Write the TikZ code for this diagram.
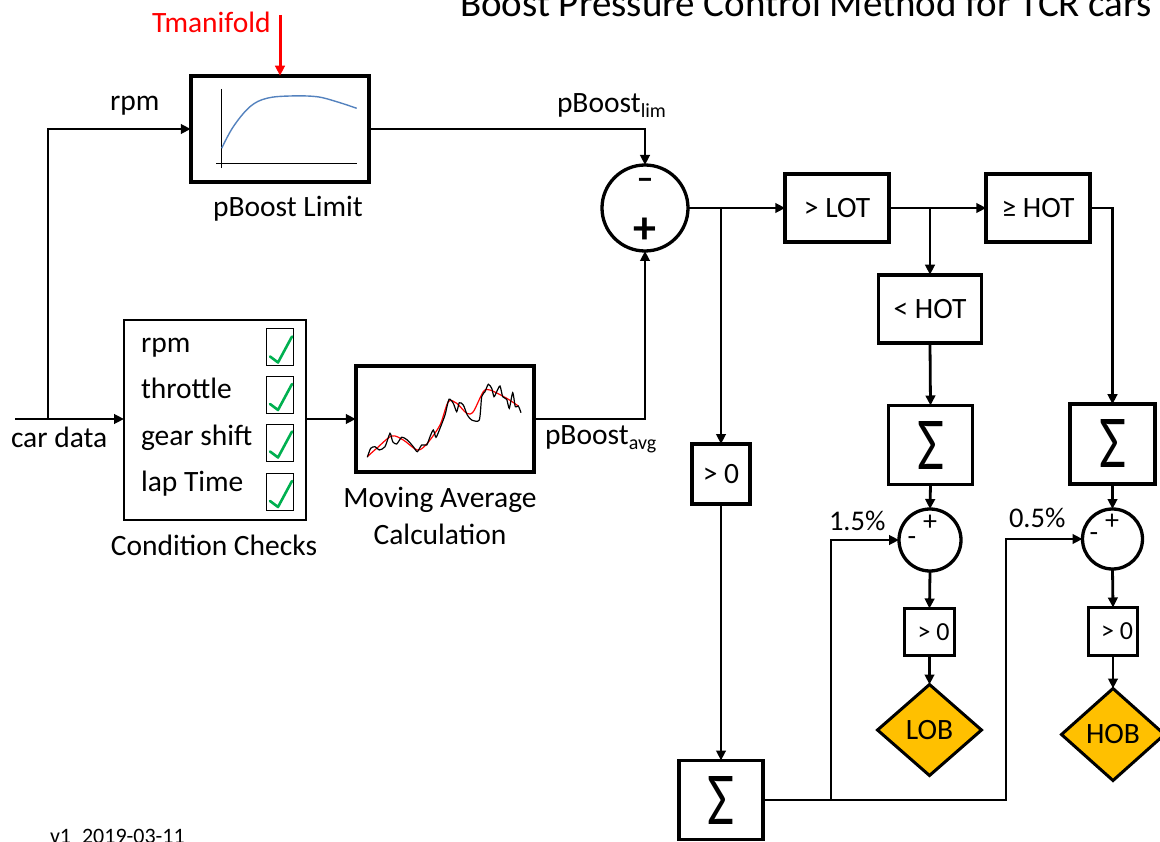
\documentclass[tikz,border=0pt]{standalone}
\usepackage{fontspec}
\usepackage{graphicx}
\setmainfont{Carlito}
\usetikzlibrary{arrows.meta,shapes.geometric}
\definecolor{chkgreen}{RGB}{0,176,80}
\definecolor{curveblue}{RGB}{84,130,190}
\definecolor{warnfill}{RGB}{255,192,0}
\newcommand{\bigsig}{\resizebox{27pt}{48pt}{\fontsize{40}{40}\selectfont Σ}}
\begin{document}
\begin{tikzpicture}[x=1pt,y=-1pt,
  every node/.style={inner sep=0pt, outer sep=0pt},
  txt/.style={font=\fontsize{29.5}{34}\selectfont},
  smalltxt/.style={font=\fontsize{26}{30}\selectfont},
  blk/.style={draw, line width=3.8pt, inner sep=0pt, font=\fontsize{29.5}{34}\selectfont},
  sumcirc/.style={draw, circle, line width=3.3pt, inner sep=0pt},
  warn/.style={draw, diamond, fill=warnfill, line width=3pt, inner sep=0pt, font=\fontsize{29.5}{34}\selectfont},
  conn/.style={line width=2.8pt, -{Triangle[length=10pt,width=9.5pt]}},
  chkbox/.style={draw, line width=1pt, minimum width=27pt, minimum height=37pt},
  tick/.style={chkgreen, line width=2.6pt, line cap=round, line join=round}
]
\useasboundingbox (0,0) rectangle (1160,842);
\clip (0,0) rectangle (1160,842);

% title and version (cut by the page edge as in the reference)
\node[anchor=base west, font=\fontsize{39}{45}\selectfont] (title) at (460,17) {Boost Pressure Control Method for TCR cars};
\node[anchor=base west, font=\fontsize{22}{26}\selectfont] (ver) at (50,843) {v1\_2019-03-11};

% pBoost limit block
\node[blk, minimum width=178.5pt, minimum height=106.5pt] (lim) at (280,129) {};
\draw[line width=1pt] (221,89) -- (221,168);
\draw[line width=1pt] (216,164) -- (357,164);
\draw[curveblue, line width=1.4pt] plot[smooth, tension=0.6] coordinates {(221.7,148.3) (233.3,126.7) (250,106.7) (266.7,98.3) (290,96) (316.7,96.7) (336.7,101.7) (356.7,108.3)};
\node[txt, anchor=base] (limlbl) at (288,217) {pBoost Limit};

% Tmanifold
\node[txt, red, anchor=base west] (tm) at (152,33) {Tmanifold};
\coordinate (tmtop) at (280,15);
\draw[conn, red, line width=3pt] (tmtop) -- (tmtop |- lim.north);

% car data & rpm
\node[txt, anchor=base west] (cdlbl) at (11,447) {car data};
\coordinate (cd) at (15,419);
\coordinate (sp) at (48,419);
\node[txt, anchor=base west] (rpmlbl) at (110,111) {rpm};

% condition checks
\node[draw, line width=2pt, minimum width=182pt, minimum height=200pt] (cc) at (215,420) {};
\node[txt, anchor=base west] (r1) at (141,353) {rpm};
\node[txt, anchor=base west] (r2) at (141,399) {throttle};
\node[txt, anchor=base west] (r3) at (141,445) {gear shift};
\node[txt, anchor=base west] (r4) at (141,491) {lap Time};
\foreach \y/\n in {347.5/1,395/2,442.5/3,492/4}{
  \node[chkbox] (chk\n) at (280,\y) {};
  \draw[tick] ([shift={(-10,9)}]chk\n.center) -- ([shift={(-2,15)}]chk\n.center) -- ([shift={(12,-11)}]chk\n.center);
}
\node[txt, anchor=base] (cclbl) at (214,555) {Condition Checks};

% moving average
\node[blk, minimum width=178.5pt, minimum height=106.5pt] (ma) at (445,419) {};
\draw[red, line width=1.2pt] plot[smooth, tension=0.5] coordinates {(367.3,456.7) (376.7,448.3) (391.7,436) (403.3,440) (417.3,450) (426.7,444) (440,425) (448.3,401.7) (456.7,403.3) (466.7,413.3) (473.3,411.7) (483.3,391.7) (490,390) (506.7,398.3) (518.3,406)};
\draw[black, line width=1.2pt] plot[smooth, tension=0.4] coordinates {(367.3,457.3) (370.7,448.3) (375,446.7) (379.3,450) (385,446.7) (390,433.3) (392.7,441.7) (396.7,444) (401.7,437.3) (407.3,440) (413.3,446.7) (417.3,451.7) (421.7,445) (426.7,445) (430,436.7) (433.3,430) (436,437.3) (440,428.3) (445,415) (449,399.3) (453.3,403.3) (456.7,411.7) (459.3,402.7) (463.3,405) (467.3,415) (471.7,420) (479.3,420) (481.7,396.7) (485,391.7) (488.3,384.3) (491.7,388.3) (494,396.7) (496.7,391.7) (500,386) (502.7,396.7) (506.7,399.3) (509.3,408.3) (512.7,392.7) (515.3,406.7) (518.3,406) (521,412.7)};
\node[txt, anchor=base] (malbl1) at (440,507) {Moving Average};
\node[txt, anchor=base] (malbl2) at (440,544) {Calculation};

% main sum
\node[sumcirc, minimum size=86pt] (sum) at (645,208) {};
\node[font=\bfseries\fontsize{34}{34}\selectfont] (summinus) at (645,184) {–};
\node[font=\bfseries\fontsize{46}{46}\selectfont] (sumplus) at (645,231) {+};

\node[txt, anchor=base west] (plim) at (557,113) {pBoost\raisebox{-5pt}{\fontsize{20}{20}\selectfont lim}};
\node[txt, anchor=base west] (pavg) at (545,444) {pBoost\raisebox{-5pt}{\fontsize{20}{20}\selectfont avg}};

% threshold boxes
\node[blk, minimum width=103.5pt, minimum height=68pt] (lot) at (837,208) {> LOT};
\node[blk, minimum width=103.5pt, minimum height=68pt] (hot) at (1038,208) {≥ HOT};
\node[blk, minimum width=103pt, minimum height=68.5pt] (lhot) at (930,309) {< HOT};
\node[blk, minimum width=58pt, minimum height=60pt] (gt0) at (721,474) {> 0};

% integrators
\node[blk, minimum width=84pt, minimum height=79pt] (sigA) at (930.5,445) {\bigsig};
\node[blk, minimum width=85.5pt, minimum height=79.5pt] (sigB) at (1112.5,444) {\bigsig};
\node[blk, minimum width=84pt, minimum height=79pt] (sigC) at (721,800) {\bigsig};

% comparison circles
\node[sumcirc, minimum size=62pt] (c1) at (930,540) {};
\node[sumcirc, minimum size=60pt] (c2) at (1112.5,539) {};
\node[font=\fontsize{28}{28}\selectfont] (c1p) at (930,523) {+};
\node[font=\fontsize{28}{28}\selectfont] (c1m) at (912,541) {-};
\node[font=\fontsize{28}{28}\selectfont] (c2p) at (1112,522) {+};
\node[font=\fontsize{28}{28}\selectfont] (c2m) at (1094,537) {-};
\node[font=\fontsize{28.5}{30}\selectfont, anchor=base west] (p15) at (829,530) {1.5\%};
\node[font=\fontsize{28.5}{30}\selectfont, anchor=base west] (p05) at (1009,527) {0.5\%};

% small >0 boxes
\node[draw, line width=3.3pt, minimum width=50pt, minimum height=47pt, smalltxt] (g1) at (929.5,632) {\hspace*{8pt}> 0};
\node[draw, line width=3.3pt, minimum width=49pt, minimum height=48pt, smalltxt] (g2) at (1113,631.5) {\hspace*{8pt}> 0};

% flags
\node[warn, minimum width=104pt, minimum height=91pt, aspect=1.14] (lob) at (929.5,730) {LOB};
\node[warn, minimum width=103pt, minimum height=92pt, aspect=1.12] (hob) at (1113,734.5) {HOB};

% connectors
\draw[conn] (cd) -- (cd -| cc.west);
\draw[conn] (sp) |- (lim.west);
\draw[conn] (cc.east |- ma.west) -- (ma.west);
\draw[conn] (lim.east) -| (sum.north);
\draw[conn] (ma.east) -| (sum.south);
\draw[conn] (sum.east) -- (lot.west);
\coordinate (b1) at (721,208);
\draw[conn] (b1) -- (gt0.north);
\draw[conn] (gt0.south) -- (sigC.north);
\draw[conn] (lot.east) -- (hot.west);
\coordinate (b2) at (930,208);
\draw[conn] (b2) -- (lhot.north);
\draw[conn] (lhot.south) -- (sigA.north);
\draw[conn] (hot.east) -| (sigB.north);
\draw[conn] (sigA.south) -- (c1.north);
\draw[conn] (sigB.south) -- (c2.north);
\draw[conn] (c1.south) -- (g1.north);
\draw[conn] (c2.south) -- (g2.north);
\draw[conn] (g1.south) -- (lob.north);
\draw[conn] (g2.south) -- (hob.north);
\coordinate (k1) at (831,540);
\coordinate (k2) at (1006,539);
\draw[conn] (sigC.east) -| (k2) -- (c2.west);
\draw[conn] (k1 |- sigC.east) -- (k1) -- (c1.west);
\end{tikzpicture}
\end{document}
